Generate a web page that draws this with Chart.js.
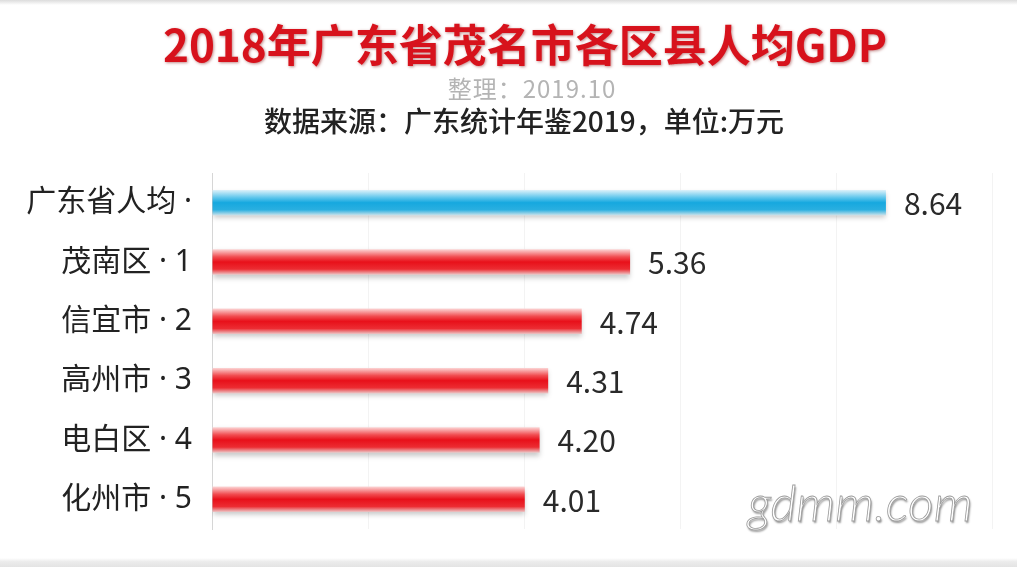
<!DOCTYPE html>
<html>
<head>
<meta charset="utf-8">
<script src="https://cdn.jsdelivr.net/npm/chart.js@4"></script>
<style>
  html, body { margin: 0; padding: 0; background: #fff; }
  #wrap { width: 1017px; height: 567px; position: relative; }
</style>
</head>
<body>
<div id="wrap"><canvas id="gdpChart" width="1017" height="567"></canvas></div>
<script>
// data
const categories = ["广东省人均 ·", "茂南区 · 1", "信宜市 · 2", "高州市 · 3", "电白区 · 4", "化州市 · 5"];
const gdpValues = [8.64, 5.36, 4.74, 4.31, 4.20, 4.01];
const xTicks = [0, 2, 4, 6, 8, 10];

const titleText = "2018年广东省茂名市各区县人均GDP";
const noteText = "整理：2019.10";
const sourceText = "数据来源：广东统计年鉴2019，单位:万元";
const watermark = "gdmm.com";

// latin first so the middle dot stays narrow
const FONT = "'Noto Sans', 'Noto Sans CJK SC', sans-serif";
const CJK = "'Noto Sans CJK SC', 'Noto Sans', sans-serif";

// vertical gradient for each bar, blue for the province, red for the districts
function barFill(ctx) {
  const chart = ctx.chart;
  const area = chart.chartArea;
  const blue = ctx.dataIndex === 0;
  if (!area) return blue ? "#1aa9df" : "#e8121a";
  const y = chart.scales.y.getPixelForValue(ctx.dataIndex);
  const h = (area.height / categories.length) * 0.43;
  const g = chart.ctx.createLinearGradient(0, y - h / 2, 0, y + h / 2);
  if (blue) {
    g.addColorStop(0, "#dff2fa");
    g.addColorStop(0.3, "#5fc6ec");
    g.addColorStop(0.5, "#16a8df");
    g.addColorStop(0.78, "#2aafe0");
    g.addColorStop(1, "#cfe3ea");
  } else {
    g.addColorStop(0, "#fcd6d6");
    g.addColorStop(0.3, "#f14c50");
    g.addColorStop(0.5, "#e8101a");
    g.addColorStop(0.78, "#ec2c32");
    g.addColorStop(1, "#ecc9c9");
  }
  return g;
}

// header texts, background bands and watermark
const decor = {
  id: "decor",
  beforeDraw(chart) {
    const c = chart.ctx;
    c.save();
    c.fillStyle = "#fff";
    c.fillRect(0, 0, chart.width, chart.height);
    let g = c.createLinearGradient(0, 0, 0, 5);
    g.addColorStop(0, "#dcdcdc");
    g.addColorStop(1, "#ffffff");
    c.fillStyle = g;
    c.fillRect(0, 0, chart.width, 5);
    g = c.createLinearGradient(0, 558, 0, 567);
    g.addColorStop(0, "#ffffff");
    g.addColorStop(0.4, "#ececec");
    g.addColorStop(1, "#e4e4e4");
    c.fillStyle = g;
    c.fillRect(0, 558, chart.width, 9);

    c.textAlign = "center";
    c.textBaseline = "middle";
    c.font = "bold 44px " + CJK;
    c.shadowColor = "rgba(120,0,0,0.45)";
    c.shadowBlur = 3;
    c.shadowOffsetX = 1;
    c.shadowOffsetY = 1;
    c.fillStyle = "#d7121c";
    c.fillText(titleText, 525, 45);
    c.shadowColor = "transparent";

    c.font = "24px " + CJK;
    c.letterSpacing = "1px";
    c.fillStyle = "#b4b4b4";
    c.fillText(noteText, 532, 89);
    c.letterSpacing = "0px";

    c.font = "500 28px " + CJK;
    c.fillStyle = "#222";
    c.fillText(sourceText, 524, 121);
    c.restore();
  },
  beforeDatasetsDraw(chart) {
    const c = chart.ctx;
    c.save();
    c.shadowColor = "rgba(0,0,0,0.22)";
    c.shadowBlur = 5;
    c.shadowOffsetY = 3;
  },
  afterDatasetsDraw(chart) {
    const c = chart.ctx;
    c.restore();
    c.save();
    c.font = "30px " + CJK;
    c.fillStyle = "#2a2a2a";
    c.textAlign = "left";
    c.textBaseline = "middle";
    chart.getDatasetMeta(0).data.forEach((bar, i) => {
      c.fillText(gdpValues[i].toFixed(2), bar.x + 18, bar.y + 1);
    });

    c.font = "italic 300 50px Lato, 'Open Sans', sans-serif";
    c.textAlign = "left";
    c.textBaseline = "alphabetic";
    c.shadowColor = "rgba(0,0,0,0.45)";
    c.shadowBlur = 2;
    c.shadowOffsetX = 1;
    c.shadowOffsetY = 2;
    c.fillStyle = "#ffffff";
    c.fillText(watermark, 748, 521);
    c.shadowColor = "transparent";
    c.lineWidth = 0.8;
    c.strokeStyle = "#9a9a9a";
    c.strokeText(watermark, 748, 521);
    c.restore();
  }
};

new Chart(document.getElementById("gdpChart"), {
  type: "bar",
  data: {
    labels: categories,
    datasets: [
      {
        data: gdpValues,
        backgroundColor: barFill,
        borderWidth: 0,
        barPercentage: 0.43,
        categoryPercentage: 1,
      },
    ],
  },
  options: {
    indexAxis: "y",
    responsive: false,
    animation: false,
    layout: {
      padding: { top: 173, right: 25, bottom: 27, left: 0 },
    },
    plugins: {
      legend: { display: false },
      tooltip: { enabled: false },
    },
    scales: {
      x: {
        min: xTicks[0],
        max: xTicks[xTicks.length - 1],
        afterBuildTicks: (axis) => {
          axis.ticks = xTicks.map((v) => ({ value: v }));
        },
        ticks: { display: false },
        grid: { color: "#f3f3f3", drawTicks: false },
        border: { display: false },
      },
      y: {
        afterFit: (axis) => {
          axis.width = 212;
        },
        ticks: {
          color: "#222",
          padding: 20,
          font: { size: 30, family: FONT },
        },
        grid: { display: false, drawTicks: false },
        border: { color: "#d6d6d6", width: 1 },
      },
    },
  },
  plugins: [decor],
});
</script>
</body>
</html>
